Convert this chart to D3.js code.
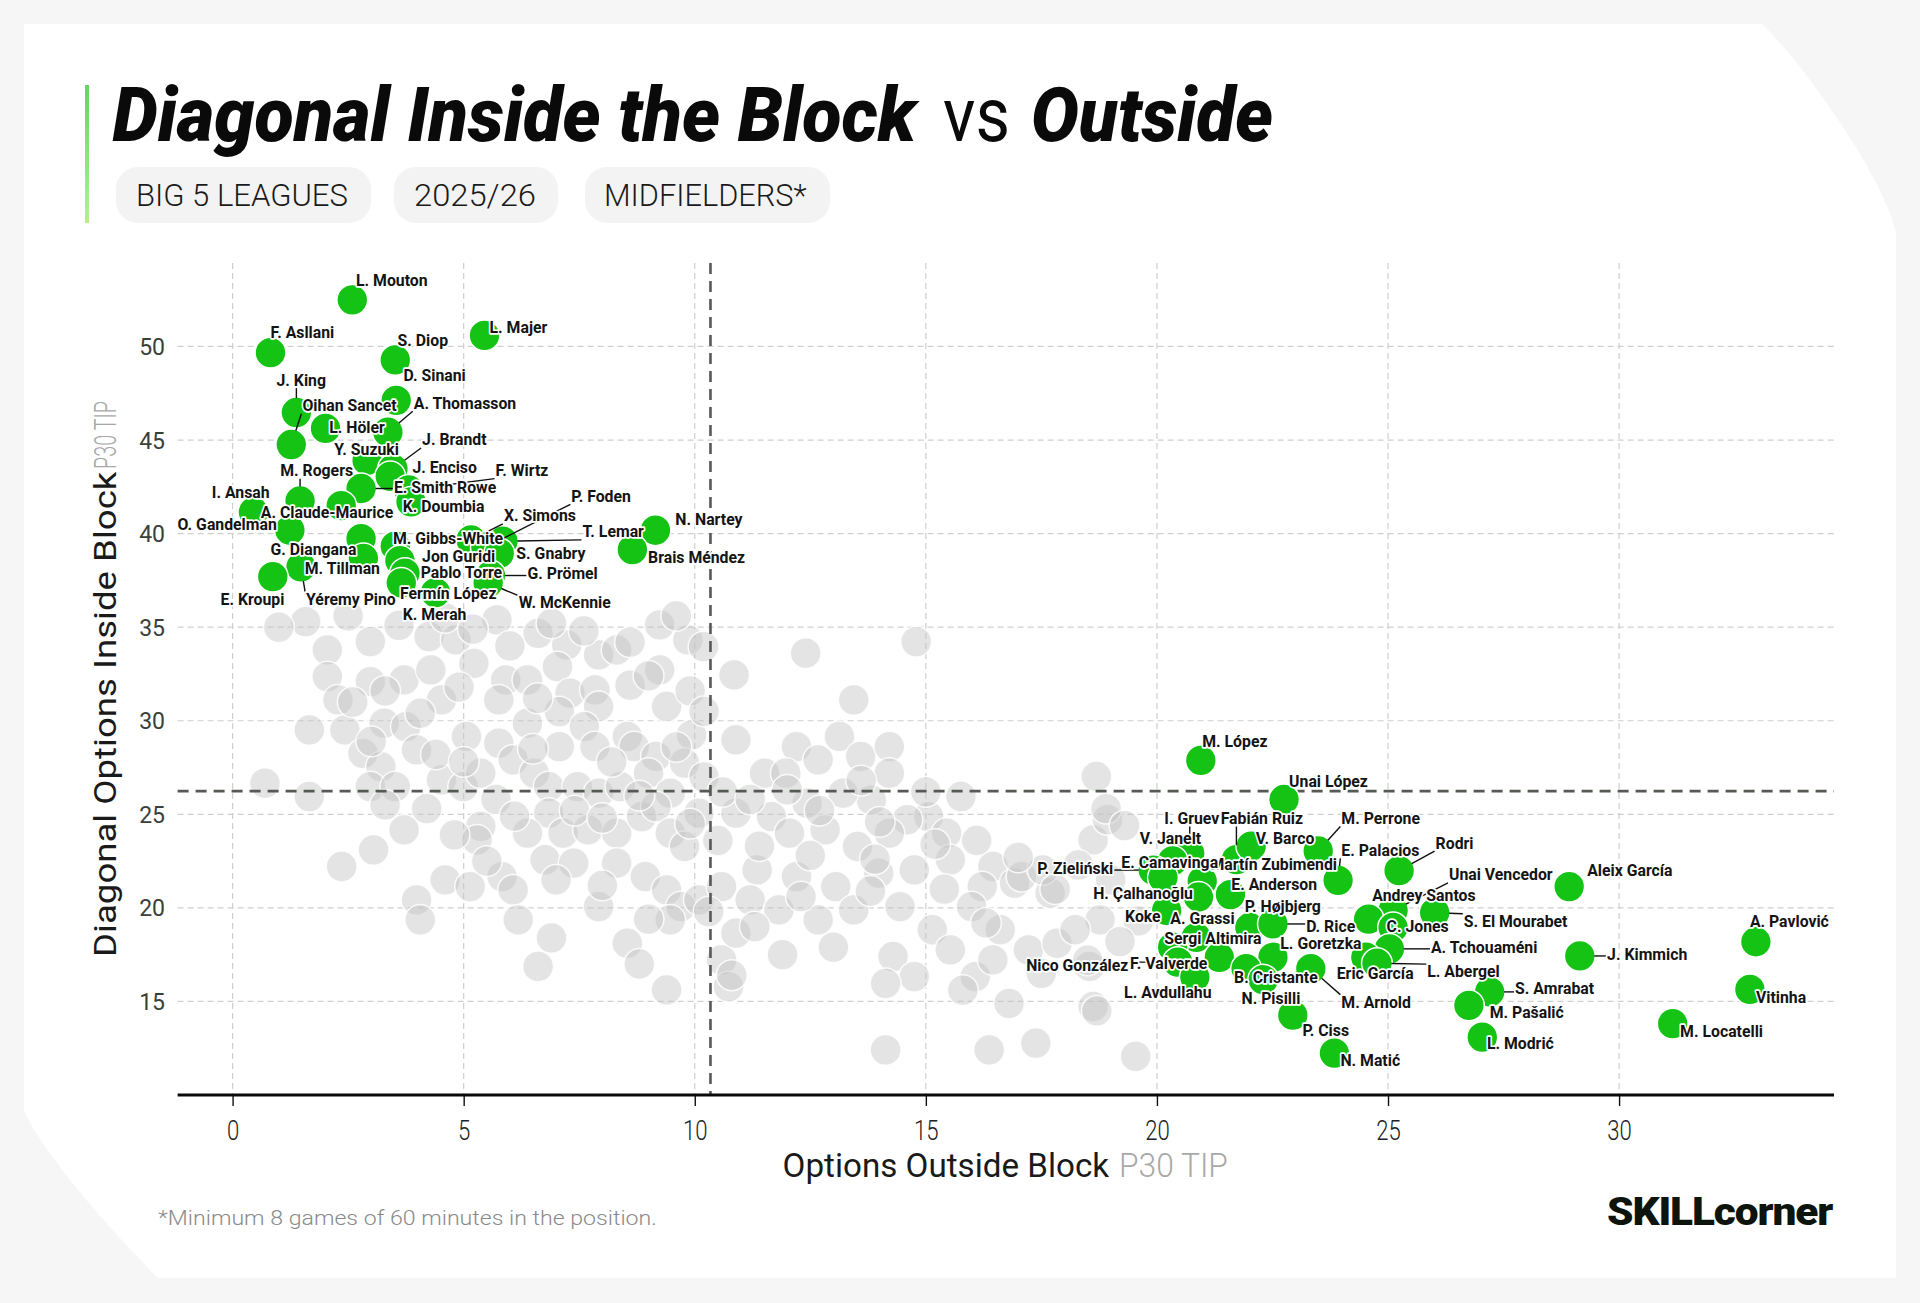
<!DOCTYPE html>
<html><head><meta charset="utf-8">
<script src="https://cdn.jsdelivr.net/npm/d3@7"></script>
<style>body{margin:0;background:#f6f6f6;}svg{display:block;}</style>
</head><body>
<svg id="c" width="1920" height="1303"></svg>
<script>
// ---------------- DATA ----------------
const xTicks = [0, 5, 10, 15, 20, 25, 30];
const yTicks = [15, 20, 25, 30, 35, 40, 45, 50];
const meanX = 10.34;
const meanY = 26.24;

const players = [
"L. Mouton","L. Majer","F. Asllani","S. Diop","D. Sinani","J. King","Oihan Sancet","L. Höler","A. Thomasson","Y. Suzuki","J. Brandt","J. Enciso","F. Wirtz","M. Rogers","E. Smith Rowe","I. Ansah","K. Doumbia","A. Claude-Maurice","O. Gandelman","G. Diangana","M. Gibbs-White","X. Simons","P. Foden","T. Lemar","S. Gnabry","Jon Guridi","N. Nartey","Brais Méndez","Yéremy Pino","M. Tillman","E. Kroupi","Pablo Torre","G. Prömel","Fermín López","W. McKennie","K. Merah",
"M. López","Unai López","I. Gruev","V. Janelt","Fabián Ruiz","V. Barco","M. Perrone","E. Palacios","Rodri","Aleix García","P. Zieliński","Martín Zubimendi","E. Camavinga","H. Çalhanoğlu","E. Anderson","Unai Vencedor","Andrey Santos","S. El Mourabet","C. Jones","Koke","A. Grassi","P. Højbjerg","D. Rice","Sergi Altimira","L. Goretzka","A. Tchouaméni","F. Valverde","Nico González","Eric García","L. Abergel","M. Arnold","B. Cristante","L. Avdullahu","N. Pisilli","J. Kimmich","A. Pavlović","Vitinha","M. Locatelli","S. Amrabat","M. Pašalić","L. Modrić","P. Ciss","N. Matić"
];
const outsideBlock = [
2.59,5.45,0.82,3.52,3.54,1.38,1.27,2.01,3.36,2.91,3.47,3.41,3.81,1.46,2.78,0.45,3.86,2.35,1.24,2.78,3.52,5.16,5.48,5.85,5.77,3.62,9.15,8.65,1.48,2.83,0.87,3.73,5.58,3.65,5.53,4.39,
20.95,22.75,20.71,20.34,21.72,22.04,23.49,23.92,25.24,28.92,19.92,20.98,20.13,20.90,21.59,25.11,24.58,26.01,25.11,20.21,20.85,22.01,22.51,20.34,22.51,25.03,21.35,20.45,24.52,24.76,23.33,21.93,20.82,22.30,29.15,32.96,32.83,31.16,27.20,26.75,27.04,22.94,23.84
];
const insideBlock = [
52.49,50.59,49.67,49.28,47.12,46.47,44.76,45.62,45.42,43.91,43.46,43.06,42.34,41.75,42.41,41.16,41.69,41.49,40.18,39.73,39.33,39.66,39.27,39.59,38.94,38.55,40.18,39.14,38.22,38.68,37.70,37.89,37.76,37.37,37.37,36.85,
27.88,25.79,22.91,22.51,22.58,23.30,23.04,21.47,21.99,21.14,22.02,21.43,21.62,20.58,20.71,19.86,19.40,19.74,18.95,19.86,18.42,18.95,19.14,17.90,17.36,17.81,17.36,17.10,17.36,17.04,16.75,16.75,16.30,16.16,17.43,18.19,15.64,13.81,15.51,14.79,13.09,14.27,12.24
];
// label anchor points (in data units, left edge / vertical centre of each name)
const labelAtX = [
2.67,5.56,0.82,3.57,3.70,0.95,1.51,2.09,3.92,2.20,4.10,3.89,5.69,1.03,3.49,-0.45,3.68,0.61,-1.19,0.82,3.47,5.87,7.33,7.57,6.14,4.10,9.58,8.99,1.59,1.56,-0.26,4.07,6.38,3.62,6.19,3.68,
20.98,22.86,20.16,19.63,21.38,22.14,23.99,23.99,26.03,29.31,17.41,21.16,19.23,18.62,21.61,26.32,24.66,26.64,24.97,19.31,20.29,21.90,23.23,20.16,22.67,25.93,19.42,17.17,23.89,25.85,23.99,21.67,19.29,21.83,29.74,32.83,32.96,31.32,27.75,27.20,27.14,23.15,23.97
];
const labelAtY = [
53.53,51.05,50.79,50.33,48.49,48.23,46.86,45.68,46.99,44.50,45.03,43.55,43.39,43.39,42.47,42.21,41.49,41.16,40.51,39.20,39.75,40.97,42.02,40.12,38.94,38.82,40.77,38.74,36.52,38.15,36.52,37.96,37.89,36.85,36.32,35.73,
28.93,26.77,24.80,23.76,24.80,23.76,24.80,23.10,23.49,22.05,22.12,22.32,22.45,20.81,21.27,21.79,20.68,19.31,19.04,19.57,19.44,20.09,19.05,18.39,18.12,17.93,17.08,16.95,16.52,16.62,14.99,16.30,15.51,15.18,17.54,19.31,15.25,13.42,15.71,14.46,12.76,13.48,11.85
];

// other midfielders (grey)
const otherX = [
1.58,2.05,2.98,4.25,4.83,5.72,6.61,7.23,7.92,8.31,9.24,9.85,9.24,2.05,2.98,3.71,4.29,4.52,5.22,5.91,5.76,6.38,7.03,7.30,7.84,7.92,9.39,9.93,2.28,1.66,2.43,3.28,3.75,4.06,5.06,5.76,6.38,7.07,7.61,7.07,7.84,8.54,8.69,9.16,9.78,0.70,1.66,2.82,3.21,2.98,3.52,3.98,4.52,4.99,5.37,6.07,6.53,6.84,7.46,7.92,8.39,9.00,9.47,10.09,6.84,6.38,7.15,7.69,5.37,5.29,8.31,8.85,9.16,9.47,9.78,2.36,3.05,3.71,3.98,4.60,5.14,5.83,6.07,6.18,6.76,7.38,8.31,8.93,9.39,9.70,7.92,8.54,9.47,10.09,6.61,9.39,4.06,
14.79,12.40,10.85,13.44,10.19,10.89,12.20,12.67,13.13,13.59,14.21,11.51,11.97,14.21,18.69,15.76,15.06,14.60,13.82,13.21,12.43,11.66,10.89,12.05,12.82,13.52,14.21,15.45,16.45,18.62,18.93,16.92,16.22,15.53,14.75,13.98,13.05,12.20,11.35,10.58,11.20,11.82,12.67,13.44,14.44,15.14,15.99,16.61,17.22,17.84,17.69,18.77,18.23,17.07,17.53,14.29,15.53,14.75,16.07,16.45,18.54,14.13,10.58,10.73,14.13,16.37,17.38,19.54,18.62,10.89,
1.0,2.5,3.6,4.6,5.2,6.0,6.9,7.6,8.6,9.6,2.6,3.3,4.9,6.6,8.6,9.0,9.9,10.2,3.0,4.4,5.0,6.5,8.2,9.6,10.2,10.6,3.3,4.2,5.7,6.1,7.4,8.0,8.8,9.9,10.5,11.2,12.0,12.7,13.6,14.0,15.0,11.4,12.5,13.9,15.2,16.1,17.0,17.8,18.3,18.9,19.3,19.0,19.6,19.2,18.5,17.5,16.3,15.4,13.8,12.3,11.3,10.3,9.0,8.0,7.0,5.5,4.8,6.9,8.8,11.9,13.0,15.8,16.8,18.7,10.8
];
const otherY = [
35.30,33.79,34.23,34.50,34.32,35.39,34.67,34.05,33.52,33.78,35.12,34.32,32.72,32.36,32.09,32.18,32.72,31.11,33.07,32.18,31.11,32.18,32.89,31.47,31.65,30.76,30.76,29.24,31.11,29.51,29.51,29.87,29.69,30.40,29.16,28.80,29.87,30.49,29.69,28.62,28.62,29.16,28.62,28.09,27.73,26.66,25.95,28.26,27.55,26.48,26.48,28.44,26.84,26.48,27.20,27.91,27.20,26.48,26.48,26.13,26.48,27.20,26.13,25.06,25.06,23.99,23.99,24.17,24.35,23.63,23.99,24.88,25.41,23.99,23.28,22.21,23.10,24.17,20.43,21.50,21.14,21.67,20.96,19.36,22.57,22.39,22.39,21.67,20.96,20.07,20.07,18.11,19.36,20.43,16.87,15.62,19.36,
34.23,33.61,32.45,31.11,33.96,28.98,28.62,27.91,29.16,28.09,28.62,27.20,27.20,27.20,27.02,25.95,24.88,24.71,25.77,26.13,25.59,24.88,25.06,23.99,24.17,23.28,23.99,23.99,22.21,23.63,24.71,21.32,21.14,22.57,22.03,21.85,21.14,21.67,22.03,21.14,20.43,19.89,19.36,19.89,20.07,18.83,20.07,18.83,17.76,18.11,20.79,19.36,18.83,21.67,22.03,17.40,17.76,16.33,16.33,17.22,16.87,15.97,17.22,15.79,12.41,12.41,12.77,12.06,14.73,18.65,
35.0,35.6,35.1,35.5,34.9,34.0,35.2,34.8,34.2,35.6,31.0,31.6,31.8,31.2,31.9,32.4,31.6,30.5,28.9,28.2,27.8,28.5,27.8,28.6,27.0,26.2,25.5,25.3,25.8,24.9,25.2,24.8,26.0,24.5,23.6,25.8,26.3,25.2,26.8,24.6,26.2,23.3,22.8,22.6,23.4,23.6,22.7,21.0,22.3,25.3,24.4,21.5,19.3,18.2,17.2,16.5,19.2,21.0,20.9,20.6,19.0,19.8,19.4,21.2,21.5,22.5,23.9,18.4,17.0,17.5,17.9,15.6,14.9,14.5,16.4
];

// ---------------- LAYOUT ----------------
const svg = d3.select('#c');
const W = 1920, H = 1303;
const plot = {left: 177.6, right: 1834, top: 263, bottom: 1095};
const x = d3.scaleLinear().domain([-1.19, 34.65]).range([plot.left, plot.right]);
const y = d3.scaleLinear().domain([10, 54.46]).range([plot.bottom, plot.top]);
const GREEN = '#14c314';
const R = 15.4;

// background card
svg.append('rect').attr('width', W).attr('height', H).attr('fill', '#f6f6f6');
svg.append('path')
  .attr('d', 'M24,24 L1762,24 C1800,60 1880,170 1896,232 L1896,1278 L158,1278 C110,1230 40,1150 24,1110 Z')
  .attr('fill', '#ffffff');

// helper: text fitted to a target width
function fitted(parent, px, py, target, setup, anchor = 'start', rot = 0) {
  const g = parent.append('g').attr('transform', `translate(${px},${py})` + (rot ? ` rotate(${rot})` : ''));
  const t = g.append('text').attr('x', 0).attr('y', 0).attr('text-anchor', anchor);
  setup(t);
  const w = t.node().getBBox().width;
  if (w > 0) t.attr('transform', `scale(${target / w},1)`);
  return t;
}

// accent bar
const grad = svg.append('defs').append('linearGradient').attr('id', 'acc').attr('x1', 0).attr('x2', 0).attr('y1', 0).attr('y2', 1);
grad.append('stop').attr('offset', '0%').attr('stop-color', '#5fd85f');
grad.append('stop').attr('offset', '100%').attr('stop-color', '#b5ee95');
svg.append('rect').attr('x', 85).attr('y', 85).attr('width', 4).attr('height', 138).attr('fill', 'url(#acc)');

// title
const titleFont = t => t.attr('font-family', 'Roboto, "DejaVu Sans", sans-serif').attr('font-size', 76).attr('fill', '#0a0a0a');
fitted(svg, 112.6, 141, 808, t => { titleFont(t); t.attr('font-weight', 900).attr('font-style', 'italic').text('Diagonal Inside the Block'); });
fitted(svg, 943, 141, 67, t => { titleFont(t); t.attr('font-weight', 400).text('vs'); });
fitted(svg, 1031, 141, 242, t => { titleFont(t); t.attr('font-weight', 900).attr('font-style', 'italic').text('Outside'); });

// pills
const pills = [
  {label: 'BIG 5 LEAGUES', x0: 116, x1: 371, tx: 136, tw: 212},
  {label: '2025/26', x0: 394, x1: 558, tx: 414, tw: 122},
  {label: 'MIDFIELDERS*', x0: 585, x1: 830, tx: 604, tw: 203}
];
pills.forEach(p => {
  svg.append('rect').attr('x', p.x0).attr('y', 167).attr('width', p.x1 - p.x0).attr('height', 56)
    .attr('rx', 22).attr('fill', '#f3f3f3');
  fitted(svg, p.tx, 206, p.tw, t => t.attr('font-family', 'Roboto, sans-serif').attr('font-weight', 300)
    .attr('font-size', 32).attr('fill', '#1a1a1a').text(p.label));
});

// grid
const grid = svg.append('g');
grid.selectAll('line.h').data(yTicks).join('line')
  .attr('x1', plot.left).attr('x2', plot.right)
  .attr('y1', d => y(d)).attr('y2', d => y(d))
  .attr('stroke', '#cfcfcf').attr('stroke-width', 1.2).attr('stroke-dasharray', '6,4');
grid.selectAll('line.v').data(xTicks).join('line')
  .attr('x1', d => x(d)).attr('x2', d => x(d))
  .attr('y1', plot.top).attr('y2', plot.bottom)
  .attr('stroke', '#cfcfcf').attr('stroke-width', 1.2).attr('stroke-dasharray', '6,4');

// y tick labels
svg.append('g').selectAll('text').data(yTicks).join('text')
  .attr('x', 165).attr('y', d => y(d) + 8.5).attr('text-anchor', 'end')
  .attr('font-family', 'Roboto, sans-serif').attr('font-size', 23).attr('fill', '#3a3f3a')
  .text(d => d);

// x axis
const xAxis = svg.append('g').attr('transform', `translate(0,${plot.bottom})`)
  .call(d3.axisBottom(x).tickValues(xTicks).tickSize(11).tickPadding(8).tickFormat(d3.format('d')));
xAxis.select('.domain').remove();
xAxis.selectAll('.tick line').attr('stroke', '#111').attr('stroke-width', 1.4);
xAxis.selectAll('.tick text').attr('font-family', 'Roboto, sans-serif').attr('font-weight', 300)
  .attr('font-size', 27).attr('fill', '#222')
  .attr('transform', 'scale(0.82,1)')
  .attr('dy', '0.95em');

// grey circles
svg.append('g').selectAll('circle').data(otherX.map((v, i) => [v, otherY[i]])).join('circle')
  .attr('cx', d => x(d[0])).attr('cy', d => y(d[1])).attr('r', R)
  .attr('fill', '#c4c4c4').attr('fill-opacity', 0.45)
  .attr('stroke', '#ffffff').attr('stroke-opacity', 0.85).attr('stroke-width', 1.5);

// mean lines
svg.append('line').attr('x1', x(meanX)).attr('x2', x(meanX)).attr('y1', plot.top).attr('y2', plot.bottom)
  .attr('stroke', '#555a55').attr('stroke-width', 2.6).attr('stroke-dasharray', '11,7');
svg.append('line').attr('x1', plot.left).attr('x2', plot.right).attr('y1', y(meanY)).attr('y2', y(meanY))
  .attr('stroke', '#555a55').attr('stroke-width', 2.6).attr('stroke-dasharray', '11,7');

// axis line on top
svg.append('line').attr('x1', plot.left).attr('x2', plot.right).attr('y1', plot.bottom).attr('y2', plot.bottom)
  .attr('stroke', '#0a0a0a').attr('stroke-width', 3.2);

// green circles
const pts = players.map((n, i) => ({name: n, cx: x(outsideBlock[i]), cy: y(insideBlock[i]), lx: x(labelAtX[i]), ly: y(labelAtY[i]) + 6}));
svg.append('g').selectAll('circle').data(pts).join('circle')
  .attr('cx', d => d.cx).attr('cy', d => d.cy).attr('r', R)
  .attr('fill', GREEN).attr('stroke', '#ffffff').attr('stroke-width', 1.5);

// labels + leader lines
const leaderG = svg.append('g');
const labelG = svg.append('g');
const SX = 0.93;
pts.forEach(p => {
  const g = labelG.append('g').attr('transform', `translate(${p.lx},${p.ly}) scale(${SX},1)`);
  const t = g.append('text').attr('x', 0).attr('y', 0)
    .attr('font-family', 'Roboto, sans-serif').attr('font-weight', 700).attr('font-size', 17)
    .attr('fill', '#141414').attr('stroke', '#ffffff').attr('stroke-width', 3.4)
    .attr('stroke-linejoin', 'round').attr('paint-order', 'stroke').text(p.name);
  const bb = t.node().getBBox();
  const x0 = p.lx + bb.x * SX - 1, x1 = p.lx + (bb.x + bb.width) * SX + 1;
  const y0 = p.ly - 13, y1 = p.ly + 2.5;
  const qx = Math.max(x0, Math.min(p.cx, x1));
  const qy = Math.max(y0, Math.min(p.cy, y1));
  const dx = qx - p.cx, dy = qy - p.cy, dist = Math.hypot(dx, dy);
  if (dist > R + 6) {
    leaderG.append('line')
      .attr('x1', p.cx + dx / dist * (R - 1)).attr('y1', p.cy + dy / dist * (R - 1))
      .attr('x2', qx).attr('y2', qy)
      .attr('stroke', '#111').attr('stroke-width', 1.4);
  }
});

// axis titles
fitted(svg, 782.6, 1176.7, 327, t => t.attr('font-family', 'Roboto, sans-serif').attr('font-weight', 400)
  .attr('font-size', 33).attr('fill', '#1a1a1a').text('Options Outside Block'));
fitted(svg, 1119, 1176.7, 109, t => t.attr('font-family', 'Roboto, sans-serif').attr('font-weight', 300)
  .attr('font-size', 33).attr('fill', '#a8a8a8').text('P30 TIP'));

// y title (rotated)
fitted(svg, 116, 957, 486, t => t.attr('font-family', 'Roboto, sans-serif').attr('font-weight', 400)
  .attr('font-size', 31).attr('fill', '#1a1a1a').text('Diagonal Options Inside Block'), 'start', -90);
fitted(svg, 116, 469, 68, t => t.attr('font-family', 'Roboto, sans-serif').attr('font-weight', 300)
  .attr('font-size', 31).attr('fill', '#a8a8a8').text('P30 TIP'), 'start', -90);

// footer
fitted(svg, 158, 1225, 499, t => t.attr('font-family', 'Roboto, sans-serif').attr('font-weight', 300)
  .attr('font-size', 21).attr('fill', '#8a8a8a').text('*Minimum 8 games of 60 minutes in the position.'));
fitted(svg, 1607, 1225, 227, t => t.attr('font-family', 'Roboto, sans-serif').attr('font-weight', 900)
  .attr('font-size', 38).attr('fill', '#0c140c').attr('letter-spacing', -1).text('SKILLcorner'));
</script>
</body></html>
